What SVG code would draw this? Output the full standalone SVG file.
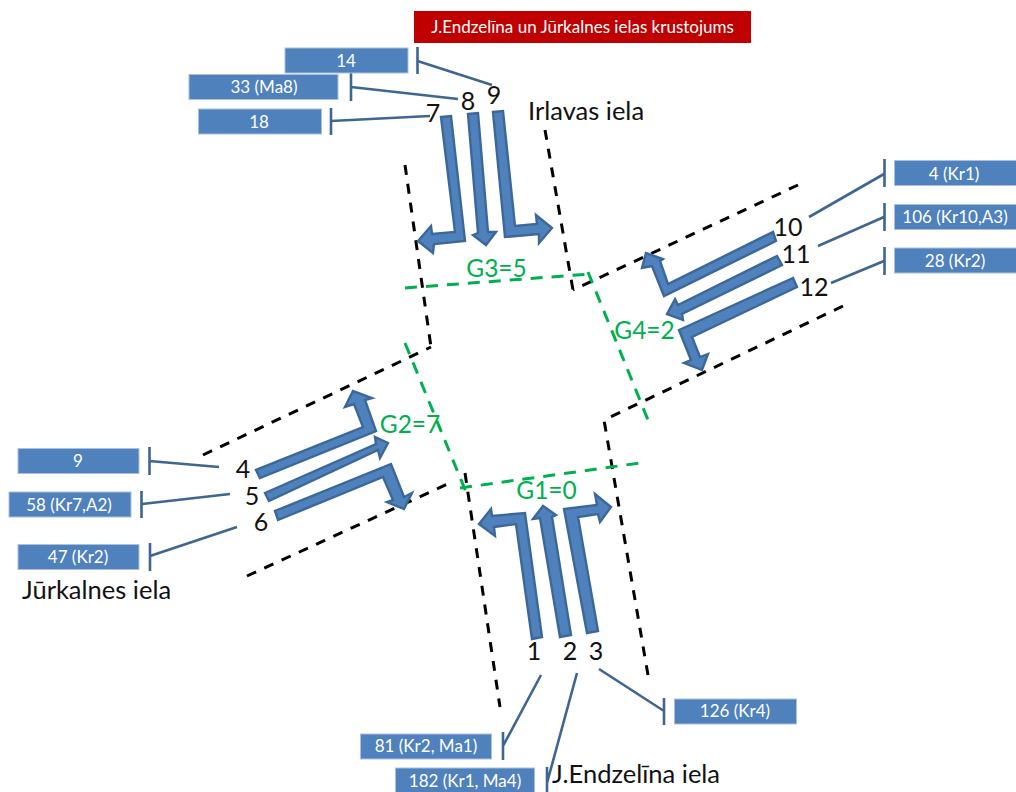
<svg xmlns="http://www.w3.org/2000/svg" width="1016" height="792" viewBox="0 0 1016 792">
<style>
text{font-family:"Lato","Open Sans","Liberation Sans",sans-serif}
.box{fill:#4f81bd;stroke:#a9c1de;stroke-width:1}
.bl{fill:#fff;font-size:17px;text-anchor:middle}
.num{fill:#111;font-size:25px;text-anchor:middle}
.st{fill:#111;font-size:25.500px}
.g{fill:#00b050;font-size:24.500px;text-anchor:middle}
.lead{stroke:#3f6591;stroke-width:2.600;fill:none}
.dk{stroke:#000;stroke-width:3;stroke-dasharray:10 9;fill:none}
.dg{stroke:#00b050;stroke-width:3;stroke-dasharray:12 9;fill:none}
.ar{fill:#4f81bd;stroke:#3c6899;stroke-width:2.400;stroke-linejoin:miter}
</style>
<rect width="1016" height="792" fill="#fff"/>
<g id="streets">
<path class="dk" d="M405 165L431 347"/>
<path class="dk" d="M203 455L431 347"/>
<path class="dk" d="M545 130L573 290"/>
<path class="dk" d="M798 185L573 290"/>
<path class="dk" d="M843 306L604 420"/>
<path class="dk" d="M648 675L604 420"/>
<path class="dk" d="M247 576L452 482"/>
<path class="dk" d="M465 473L500 707"/>
<path class="dg" d="M405 288L590 274"/>
<path class="dg" d="M588 272L648 420"/>
<path class="dg" d="M405 343L466 492"/>
<path class="dg" d="M460 488L640 463"/>
</g>
<g id="connectors">
<path class="lead" d="M417.500 47V74M417.500 61L492 85"/>
<path class="lead" d="M351 73V101M351 87L458 99"/>
<path class="lead" d="M331 108V135M331 121L430 116"/>
<path class="lead" d="M884.500 159V187M884 174L809 217"/>
<path class="lead" d="M884.500 203V231M884 217L818 246"/>
<path class="lead" d="M884.500 247V275M884 261L831 283"/>
<path class="lead" d="M149.500 447V475M149 461L219 467"/>
<path class="lead" d="M141.500 491V518M142 504L230 494"/>
<path class="lead" d="M150 543V571M150 556L237 527"/>
<path class="lead" d="M664 698V725M664 711L599 669"/>
<path class="lead" d="M503 732V760M503 746L541 675"/>
<path class="lead" d="M547 767V792M547 783L577 673"/>
<polygon class="ar" points="441,117 451,116 465,241 434,244 433,253 418,241 431,226 432,234 455,232"/>
<polygon class="ar" points="468,114 478,113 488,232 496,232 486,245 473,235 478,233"/>
<polygon class="ar" points="493,112 503,111 515,226 537,224 536,215 552,228 539,243 539,234 505,237"/>
<polygon class="ar" points="773,232 776,241 664,296 652,266 642,268 646,253 663,259 660,261 668,284"/>
<polygon class="ar" points="777,256 782,265 682,314 683,320 667,314 675,299 678,305"/>
<polygon class="ar" points="793,278 797,287 692,337 700,357 708,354 702,370 684,363 691,360 679,330"/>
<polygon class="ar" points="256,470 260,478 376,431 365,400 372,398 353,391 345,407 354,404 363,427"/>
<polygon class="ar" points="265,493 269,501 378,450 380,458 388,443 375,437 376,444"/>
<polygon class="ar" points="275,511 278,520 383,477 393,500 387,502 404,509 412,493 404,497 391,464"/>
<polygon class="ar" points="532,639 542,637 525,513 492,516 491,509 479,524 495,536 494,527 516,524"/>
<polygon class="ar" points="560,637 571,635 552,517 556,515 543,506 533,519 540,518"/>
<polygon class="ar" points="587,633 598,631 578,517 598,514 600,522 611,507 595,494 597,505 564,509"/>
</g>
<g id="title"><rect x="414" y="11" width="337" height="32" fill="#c00000"/><text class="bl" x="582.500" y="33">J.Endzelīna un Jūrkalnes ielas krustojums</text></g>
<g id="n14"><rect class="box" x="285" y="48" width="123" height="25"/><text class="bl" x="346" y="67">14</text></g>
<g id="n33"><rect class="box" x="189" y="74.500" width="149" height="25"/><text class="bl" x="264" y="93">33 (Ma8)</text></g>
<g id="n18"><rect class="box" x="198.500" y="109" width="123" height="25"/><text class="bl" x="259" y="128">18</text></g>
<g id="n4"><rect class="box" x="894.500" y="160.500" width="122" height="25"/><text class="bl" x="954" y="180">4 (Kr1)</text></g>
<g id="n106"><rect class="box" x="894.500" y="204.500" width="122" height="25"/><text class="bl" x="955" y="223">106 (Kr10,A3)</text></g>
<g id="n28"><rect class="box" x="894.500" y="248" width="122" height="25"/><text class="bl" x="955" y="267">28 (Kr2)</text></g>
<g id="n9"><rect class="box" x="18" y="448.500" width="121" height="25"/><text class="bl" x="78" y="467">9</text></g>
<g id="n58"><rect class="box" x="9" y="492" width="122" height="25"/><text class="bl" x="69" y="511">58 (Kr7,A2)</text></g>
<g id="n47"><rect class="box" x="18" y="544.500" width="121" height="25"/><text class="bl" x="78" y="563">47 (Kr2)</text></g>
<g id="n126"><rect class="box" x="674.500" y="699" width="122" height="25"/><text class="bl" x="735" y="717">126 (Kr4)</text></g>
<g id="n81"><rect class="box" x="360.500" y="734" width="131" height="25"/><text class="bl" x="426" y="752">81 (Kr2, Ma1)</text></g>
<g id="n182"><rect class="box" x="395.500" y="768" width="139" height="26"/><text class="bl" x="465" y="787">182 (Kr1, Ma4)</text></g>
<g id="labels">
<text class="num" x="534" y="660">1</text><text class="num" x="570" y="660">2</text><text class="num" x="596" y="660">3</text>
<text class="num" x="243" y="478">4</text><text class="num" x="252" y="505">5</text><text class="num" x="261" y="531">6</text>
<text class="num" x="433" y="122">7</text><text class="num" x="468" y="110">8</text><text class="num" x="494" y="104">9</text>
<text class="num" x="788" y="236">10</text><text class="num" x="796" y="263">11</text><text class="num" x="814" y="296">12</text>
<text class="st" x="528" y="120">Irlavas iela</text>
<text class="st" x="22" y="599">Jūrkalnes iela</text>
<text class="st" x="552" y="783">J.Endzelīna iela</text>
<text class="g" x="496.500" y="277">G3=5</text>
<text class="g" x="644.500" y="339">G4=2</text>
<text class="g" x="410" y="433">G2=7</text>
<text class="g" x="546.500" y="499">G1=0</text>
</g>
</svg>
